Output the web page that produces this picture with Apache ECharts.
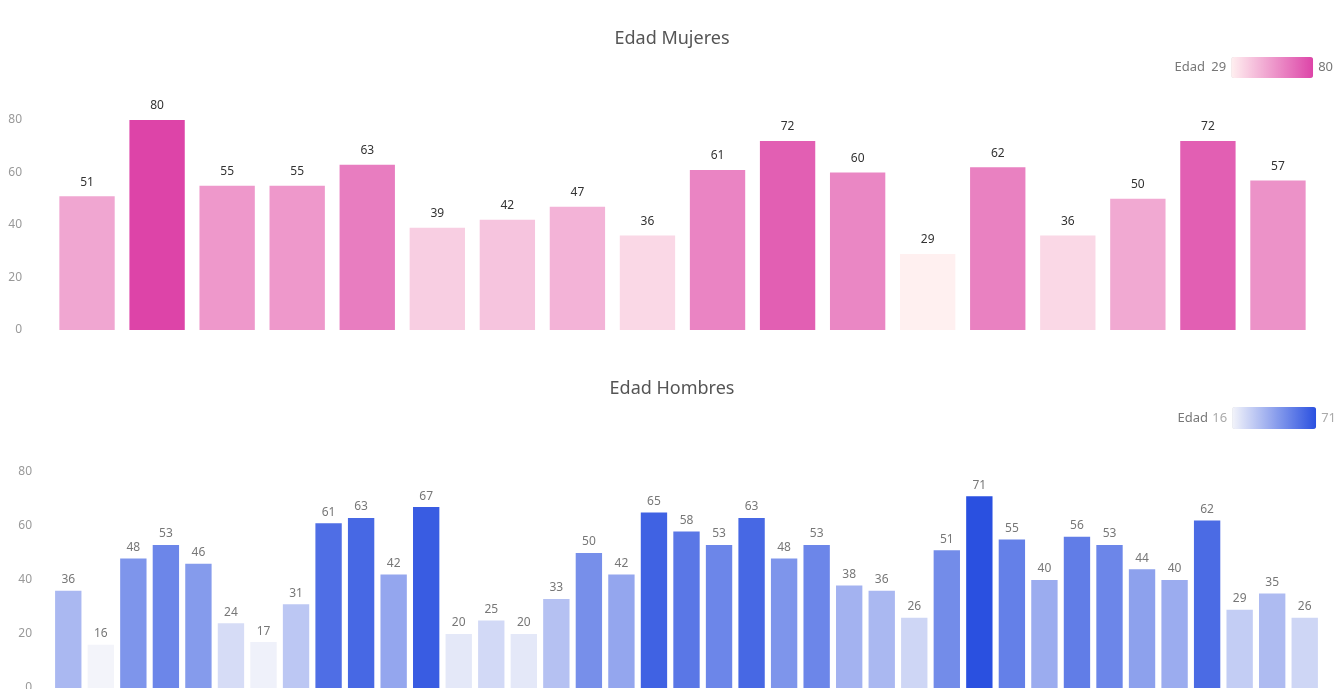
<!DOCTYPE html>
<html>
<head>
<meta charset="utf-8">
<script src="https://cdn.jsdelivr.net/npm/echarts@6/dist/echarts.min.js"></script>
<style>
  html, body { margin: 0; padding: 0; background: #fff; }
  #chart { width: 1344px; height: 689px; }
</style>
</head>
<body>
<div id="chart"></div>
<script>
// edades por persona (lectura del gráfico)
const edadMujeres = [51, 80, 55, 55, 63, 39, 42, 47, 36, 61, 72, 60, 29, 62, 36, 50, 72, 57];
const edadHombres = [36, 16, 48, 53, 46, 24, 17, 31, 61, 63, 42, 67, 20, 25, 20, 33, 50, 42, 65,
  58, 53, 63, 48, 53, 38, 36, 26, 51, 71, 55, 40, 56, 53, 44, 40, 62, 29, 35, 26];
const mujeresCats = edadMujeres.map((_, i) => 'M' + (i + 1));
const hombresCats = edadHombres.map((_, i) => 'H' + (i + 1));
const yTicks = [0, 20, 40, 60, 80];

const FONT = '"Noto Sans", sans-serif';
const chart = echarts.init(document.getElementById('chart'));

function yAxisFor(gridIndex, margin) {
  return {
    type: 'value',
    gridIndex,
    min: yTicks[0],
    max: yTicks[yTicks.length - 1],
    interval: yTicks[1] - yTicks[0],
    axisLine: { show: false },
    axisTick: { show: false },
    splitLine: { show: false },
    axisLabel: { color: '#999', fontSize: 12, margin, fontFamily: FONT },
  };
}

function xAxisFor(gridIndex, cats) {
  return {
    type: 'category',
    gridIndex,
    data: cats,
    axisLine: { show: false },
    axisTick: { show: false },
    axisLabel: { show: false },
  };
}

chart.setOption({
  animation: false,
  textStyle: { fontFamily: FONT },
  title: [
    { text: 'Edad Mujeres', left: 'center', top: 25, textStyle: { fontSize: 18, fontWeight: 'normal', color: '#555', fontFamily: FONT } },
    { text: 'Edad Hombres', left: 'center', top: 375, textStyle: { fontSize: 18, fontWeight: 'normal', color: '#555', fontFamily: FONT } },
  ],
  graphic: [
    { type: 'text', right: 139, top: 61, style: { text: 'Edad', fontSize: 13, fill: '#777', fontFamily: FONT } },
    { type: 'text', right: 136, top: 412, style: { text: 'Edad', fontSize: 13, fill: '#777', fontFamily: FONT } },
  ],
  visualMap: [
    {
      type: 'continuous',
      seriesIndex: 0,
      min: 29,
      max: 80,
      orient: 'horizontal',
      right: -4,
      top: 42,
      itemWidth: 21,
      itemHeight: 82,
      textGap: 5,
      text: ['80', '29'],
      textStyle: { color: '#777', fontSize: 13, fontFamily: FONT },
      calculable: false,
      inRange: { color: ['#fff0f0', '#dd44a8'] },
    },
    {
      type: 'continuous',
      seriesIndex: 1,
      min: 16,
      max: 71,
      orient: 'horizontal',
      right: -7,
      top: 392,
      itemWidth: 22,
      itemHeight: 84,
      textGap: 5,
      text: ['71', '16'],
      textStyle: { color: '#aaa', fontSize: 13, fontFamily: FONT },
      calculable: false,
      inRange: { color: ['#f3f4fa', '#2a50e0'] },
    },
  ],
  grid: [
    { left: 52, right: 31, top: 120, bottom: 359, outerBoundsMode: 'none' },
    { left: 52, right: 23, top: 472, bottom: 1, outerBoundsMode: 'none' },
  ],
  xAxis: [xAxisFor(0, mujeresCats), xAxisFor(1, hombresCats)],
  yAxis: [yAxisFor(0, 30), yAxisFor(1, 20)],
  series: [
    {
      name: 'Edad Mujeres',
      type: 'bar',
      xAxisIndex: 0,
      yAxisIndex: 0,
      barWidth: '79%',
      data: edadMujeres,
      label: { show: true, position: 'top', distance: 8, color: '#333', fontSize: 12, fontFamily: FONT },
    },
    {
      name: 'Edad Hombres',
      type: 'bar',
      xAxisIndex: 1,
      yAxisIndex: 1,
      barWidth: '81%',
      data: edadHombres,
      label: { show: true, position: 'top', color: '#777', fontSize: 12, fontFamily: FONT },
    },
  ],
});
</script>
</body>
</html>
